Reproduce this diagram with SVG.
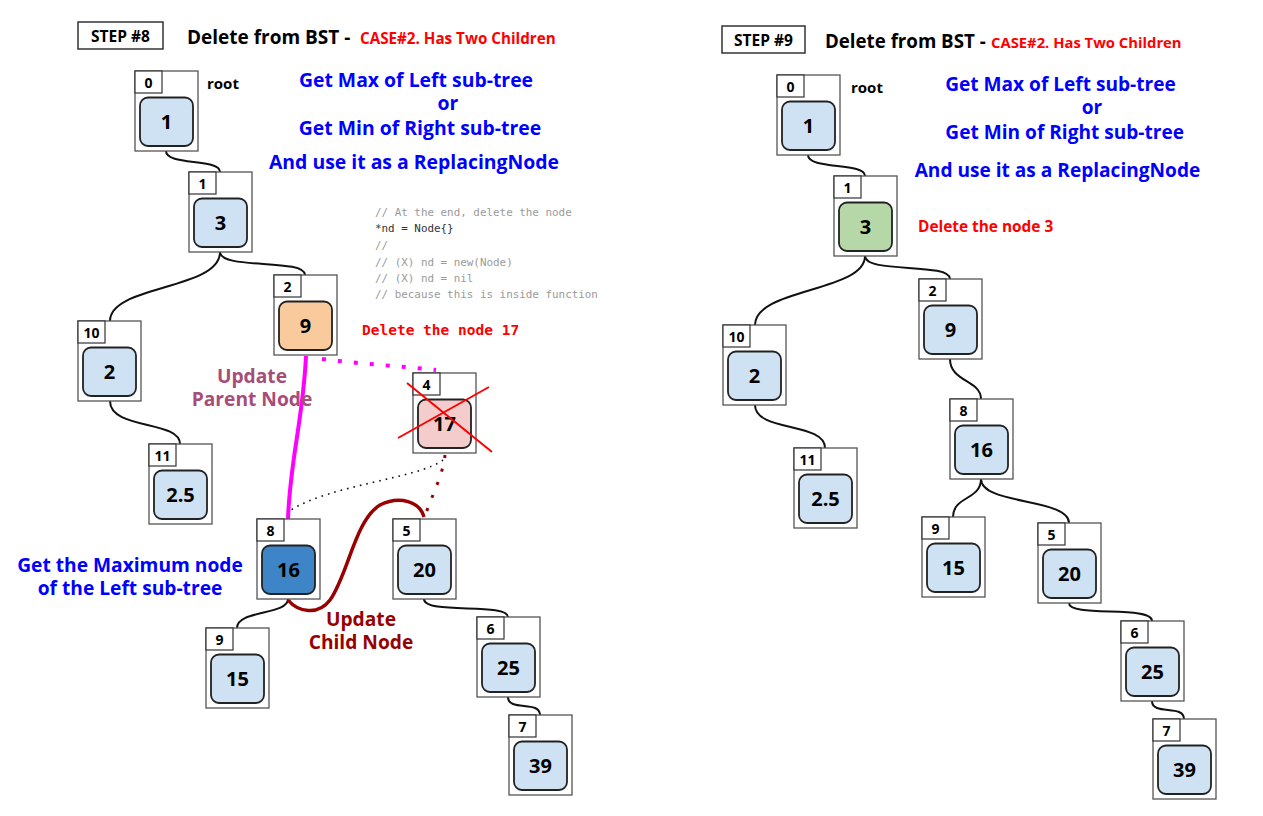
<svg xmlns="http://www.w3.org/2000/svg" width="1263" height="816" viewBox="0 0 1263 816">
  <defs>
    <style>
      .bg { fill: #ffffff; }
      .outer { fill: #ffffff; stroke: #555555; stroke-width: 1.3; }
      .idx { fill: #ffffff; stroke: #333333; stroke-width: 1.2; }
      .val { stroke: #222222; stroke-width: 1.8; }
      .blue { fill: #cfe2f3; }
      .orange { fill: #f9cb9c; }
      .pink { fill: #f4cccc; }
      .dark { fill: #3d85c6; }
      .green { fill: #b6d7a8; }
      .idxt { font-family: "Open Sans", "Noto Sans", sans-serif; font-weight: bold; font-size: 14px; fill: #000; text-anchor: middle; }
      .valt { font-family: "Open Sans", "Noto Sans", sans-serif; font-weight: bold; font-size: 20px; fill: #000; text-anchor: middle; }
      .edge { fill: none; stroke: #111111; stroke-width: 2; }
      .step { fill: #ffffff; stroke: #333333; stroke-width: 1.5; }
      .stept { font-family: "Open Sans", "Noto Sans", sans-serif; font-weight: bold; font-size: 15.5px; fill: #000; text-anchor: middle; }
      .title { font-family: "Open Sans", "Noto Sans", sans-serif; font-weight: bold; font-size: 19px; fill: #000; }
      .case { font-family: "Open Sans", "Noto Sans", sans-serif; font-weight: bold; font-size: 15.2px; fill: #ff0000; }
      .t2 { font-size: 18.7px; }
      .c2 { font-size: 14.8px; }
      .root { font-family: "Open Sans", "Noto Sans", sans-serif; font-weight: bold; font-size: 15px; fill: #000; }
      .hint { font-family: "Open Sans", "Noto Sans", sans-serif; font-weight: bold; font-size: 19.4px; fill: #0000ff; text-anchor: middle; }
      .hint2 { font-size: 19.1px; }
      .code { font-family: "DejaVu Sans Mono", "Liberation Mono", monospace; font-size: 10.9px; fill: #9a9a9a; }
      .codek { fill: #333333; }
      .del { font-family: "DejaVu Sans Mono", "Liberation Mono", monospace; font-weight: bold; font-size: 14.5px; fill: #ff0000; }
      .del2 { font-family: "Open Sans", "Noto Sans", sans-serif; font-weight: bold; font-size: 15.4px; fill: #ff0000; }
      .upd { font-family: "Open Sans", "Noto Sans", sans-serif; font-weight: bold; font-size: 19.2px; text-anchor: middle; }
    </style>
  </defs>

  <rect class="bg" x="0" y="0" width="1263" height="816"/>

  <!-- connectors -->
  <g id="connectors">
    <!-- step 8 tree -->
    <path class="edge" d="M166,151 C166,166 220,158 220,172"/>
    <path class="edge" d="M220,252 C220,290 110,285 110,321"/>
    <path class="edge" d="M220,252 C220,270 305,258 305,275"/>
    <path class="edge" d="M110,401 C110,430 180,420 180,444"/>
    <path class="edge" d="M288,599 C288,615 237,610 237,628"/>
    <path class="edge" d="M424,599 C424,615 508,602 508,617"/>
    <path class="edge" d="M508,697 C508,712 540,700 540,715"/>
    <!-- parent re-link -->
    <path d="M306,356 C303,420 290,460 288,519" fill="none" stroke="#ff00ff" stroke-width="4"/>
    <path d="M322,359 C360,364 400,366 436,370" fill="none" stroke="#ff00ff" stroke-width="4" stroke-dasharray="4 12"/>
    <path d="M443,460 C420,478 330,485 291,510" fill="none" stroke="#111111" stroke-width="1.6" stroke-dasharray="1.6 5"/>
    <path d="M445,455 C443,475 432,495 425,516" fill="none" stroke="#990000" stroke-width="3" stroke-dasharray="3 11"/>
    <!-- child re-link -->
    <path d="M288,600 C298,612 318,616 330,600 C348,575 355,520 380,505 C400,495 420,502 424,517" fill="none" stroke="#990000" stroke-width="3.5"/>

    <!-- step 9 tree -->
    <path class="edge" d="M808,155 C808,170 865,162 865,176"/>
    <path class="edge" d="M865,256 C865,292 755,288 755,325"/>
    <path class="edge" d="M865,256 C865,274 950,262 950,279"/>
    <path class="edge" d="M950,359 C950,382 981,380 981,399"/>
    <path class="edge" d="M755,405 C755,432 825,422 825,448"/>
    <path class="edge" d="M981,479 C981,500 953,496 953,517"/>
    <path class="edge" d="M981,479 C981,505 1069,498 1069,523"/>
    <path class="edge" d="M1069,603 C1069,618 1152,605 1152,621"/>
    <path class="edge" d="M1152,701 C1152,716 1184,704 1184,719"/>
  </g>

  <!-- step 8 labels -->
  <g id="step8-header">
    <rect class="step" x="78" y="22" width="85" height="27"/>
    <text class="stept" x="120.5" y="41.5">STEP #8</text>
    <text class="title" x="187" y="44">Delete from BST -</text>
    <text class="case" x="360" y="44">CASE#2. Has Two Children</text>
    <text class="root" x="207" y="89">root</text>
    <text class="hint" x="416" y="87">Get Max of Left sub-tree</text>
    <text class="hint" x="448" y="110">or</text>
    <text class="hint" x="420" y="135">Get Min of Right sub-tree</text>
    <text class="hint" x="414" y="169">And use it as a ReplacingNode</text>
  </g>

  <g id="code-note">
    <text class="code" x="375" y="216">// At the end, delete the node</text>
    <text class="code codek" x="375" y="232">*nd = Node{}</text>
    <text class="code" x="375" y="249">//</text>
    <text class="code" x="375" y="266">// (X) nd = new(Node)</text>
    <text class="code" x="375" y="282">// (X) nd = nil</text>
    <text class="code" x="375" y="298">// because this is inside function</text>
    <text class="del" x="362" y="335">Delete the node 17</text>
  </g>

  <g id="labels8">
    <text class="upd" x="252" y="383" fill="#a64d79">Update</text>
    <text class="upd" x="252" y="406" fill="#a64d79">Parent Node</text>
    <text class="upd" x="130" y="572" fill="#0000ff">Get the Maximum node</text>
    <text class="upd" x="130" y="595" fill="#0000ff">of the Left sub-tree</text>
    <text class="upd" x="361" y="626" fill="#990000">Update</text>
    <text class="upd" x="361" y="649" fill="#990000">Child Node</text>
  </g>

  <!-- step 8 nodes -->
  <g id="s8-n0" transform="translate(135,71)">
    <rect class="outer" width="63" height="80"/><rect class="idx" width="27" height="22"/>
    <text class="idxt" x="13.5" y="16.5">0</text>
    <rect class="val blue" x="5" y="26.5" width="53" height="48.5" rx="8"/>
    <text class="valt" x="31.5" y="58">1</text>
  </g>
  <g id="s8-n1" transform="translate(189,172)">
    <rect class="outer" width="63" height="80"/><rect class="idx" width="27" height="22"/>
    <text class="idxt" x="13.5" y="16.5">1</text>
    <rect class="val blue" x="5" y="26.5" width="53" height="48.5" rx="8"/>
    <text class="valt" x="31.5" y="58">3</text>
  </g>
  <g id="s8-n2" transform="translate(274,275)">
    <rect class="outer" width="63" height="80"/><rect class="idx" width="27" height="22"/>
    <text class="idxt" x="13.5" y="16.5">2</text>
    <rect class="val orange" x="5" y="26.5" width="53" height="48.5" rx="8"/>
    <text class="valt" x="31.5" y="58">9</text>
  </g>
  <g id="s8-n4" transform="translate(413,373)">
    <rect class="outer" width="63" height="80"/><rect class="idx" width="27" height="22"/>
    <text class="idxt" x="13.5" y="16.5">4</text>
    <rect class="val pink" x="5" y="26.5" width="53" height="48.5" rx="8"/>
    <text class="valt" x="31.5" y="58">17</text>
    <line x1="-6" y1="10" x2="79" y2="79" stroke="#ff0000" stroke-width="2"/>
    <line x1="-15" y1="65" x2="76" y2="14" stroke="#ff0000" stroke-width="2"/>
  </g>
  <g id="s8-n10" transform="translate(78,321)">
    <rect class="outer" width="63" height="80"/><rect class="idx" width="27" height="22"/>
    <text class="idxt" x="13.5" y="16.5">10</text>
    <rect class="val blue" x="5" y="26.5" width="53" height="48.5" rx="8"/>
    <text class="valt" x="31.5" y="58">2</text>
  </g>
  <g id="s8-n11" transform="translate(149,444)">
    <rect class="outer" width="63" height="80"/><rect class="idx" width="27" height="22"/>
    <text class="idxt" x="13.5" y="16.5">11</text>
    <rect class="val blue" x="5" y="26.5" width="53" height="48.5" rx="8"/>
    <text class="valt" x="31.5" y="58">2.5</text>
  </g>
  <g id="s8-n8" transform="translate(257,519)">
    <rect class="outer" width="63" height="80"/><rect class="idx" width="27" height="22"/>
    <text class="idxt" x="13.5" y="16.5">8</text>
    <rect class="val dark" x="5" y="26.5" width="53" height="48.5" rx="8"/>
    <text class="valt" x="31.5" y="58">16</text>
  </g>
  <g id="s8-n5" transform="translate(393,519)">
    <rect class="outer" width="63" height="80"/><rect class="idx" width="27" height="22"/>
    <text class="idxt" x="13.5" y="16.5">5</text>
    <rect class="val blue" x="5" y="26.5" width="53" height="48.5" rx="8"/>
    <text class="valt" x="31.5" y="58">20</text>
  </g>
  <g id="s8-n9" transform="translate(206,628)">
    <rect class="outer" width="63" height="80"/><rect class="idx" width="27" height="22"/>
    <text class="idxt" x="13.5" y="16.5">9</text>
    <rect class="val blue" x="5" y="26.5" width="53" height="48.5" rx="8"/>
    <text class="valt" x="31.5" y="58">15</text>
  </g>
  <g id="s8-n6" transform="translate(477,617)">
    <rect class="outer" width="63" height="80"/><rect class="idx" width="27" height="22"/>
    <text class="idxt" x="13.5" y="16.5">6</text>
    <rect class="val blue" x="5" y="26.5" width="53" height="48.5" rx="8"/>
    <text class="valt" x="31.5" y="58">25</text>
  </g>
  <g id="s8-n7" transform="translate(509,715)">
    <rect class="outer" width="63" height="80"/><rect class="idx" width="27" height="22"/>
    <text class="idxt" x="13.5" y="16.5">7</text>
    <rect class="val blue" x="5" y="26.5" width="53" height="48.5" rx="8"/>
    <text class="valt" x="31.5" y="58">39</text>
  </g>

  <!-- step 9 labels -->
  <g id="step9-header">
    <rect class="step" x="722" y="26" width="83" height="27"/>
    <text class="stept" x="763.5" y="45.5">STEP #9</text>
    <text class="title t2" x="825" y="48">Delete from BST -</text>
    <text class="case c2" x="991" y="48">CASE#2. Has Two Children</text>
    <text class="root" x="851" y="93">root</text>
    <text class="hint hint2" x="1060.5" y="91">Get Max of Left sub-tree</text>
    <text class="hint hint2" x="1092" y="114">or</text>
    <text class="hint hint2" x="1064.7" y="139">Get Min of Right sub-tree</text>
    <text class="hint hint2" x="1057.5" y="177">And use it as a ReplacingNode</text>
    <text class="del2" x="918" y="232">Delete the node 3</text>
  </g>

  <!-- step 9 nodes -->
  <g id="s9-n0" transform="translate(777,75)">
    <rect class="outer" width="63" height="80"/><rect class="idx" width="27" height="22"/>
    <text class="idxt" x="13.5" y="16.5">0</text>
    <rect class="val blue" x="5" y="26.5" width="53" height="48.5" rx="8"/>
    <text class="valt" x="31.5" y="58">1</text>
  </g>
  <g id="s9-n1" transform="translate(834,176)">
    <rect class="outer" width="63" height="80"/><rect class="idx" width="27" height="22"/>
    <text class="idxt" x="13.5" y="16.5">1</text>
    <rect class="val green" x="5" y="26.5" width="53" height="48.5" rx="8"/>
    <text class="valt" x="31.5" y="58">3</text>
  </g>
  <g id="s9-n2" transform="translate(919,279)">
    <rect class="outer" width="63" height="80"/><rect class="idx" width="27" height="22"/>
    <text class="idxt" x="13.5" y="16.5">2</text>
    <rect class="val blue" x="5" y="26.5" width="53" height="48.5" rx="8"/>
    <text class="valt" x="31.5" y="58">9</text>
  </g>
  <g id="s9-n10" transform="translate(723,325)">
    <rect class="outer" width="63" height="80"/><rect class="idx" width="27" height="22"/>
    <text class="idxt" x="13.5" y="16.5">10</text>
    <rect class="val blue" x="5" y="26.5" width="53" height="48.5" rx="8"/>
    <text class="valt" x="31.5" y="58">2</text>
  </g>
  <g id="s9-n11" transform="translate(794,448)">
    <rect class="outer" width="63" height="80"/><rect class="idx" width="27" height="22"/>
    <text class="idxt" x="13.5" y="16.5">11</text>
    <rect class="val blue" x="5" y="26.5" width="53" height="48.5" rx="8"/>
    <text class="valt" x="31.5" y="58">2.5</text>
  </g>
  <g id="s9-n8" transform="translate(950,399)">
    <rect class="outer" width="63" height="80"/><rect class="idx" width="27" height="22"/>
    <text class="idxt" x="13.5" y="16.5">8</text>
    <rect class="val blue" x="5" y="26.5" width="53" height="48.5" rx="8"/>
    <text class="valt" x="31.5" y="58">16</text>
  </g>
  <g id="s9-n9" transform="translate(922,517)">
    <rect class="outer" width="63" height="80"/><rect class="idx" width="27" height="22"/>
    <text class="idxt" x="13.5" y="16.5">9</text>
    <rect class="val blue" x="5" y="26.5" width="53" height="48.5" rx="8"/>
    <text class="valt" x="31.5" y="58">15</text>
  </g>
  <g id="s9-n5" transform="translate(1038,523)">
    <rect class="outer" width="63" height="80"/><rect class="idx" width="27" height="22"/>
    <text class="idxt" x="13.5" y="16.5">5</text>
    <rect class="val blue" x="5" y="26.5" width="53" height="48.5" rx="8"/>
    <text class="valt" x="31.5" y="58">20</text>
  </g>
  <g id="s9-n6" transform="translate(1121,621)">
    <rect class="outer" width="63" height="80"/><rect class="idx" width="27" height="22"/>
    <text class="idxt" x="13.5" y="16.5">6</text>
    <rect class="val blue" x="5" y="26.5" width="53" height="48.5" rx="8"/>
    <text class="valt" x="31.5" y="58">25</text>
  </g>
  <g id="s9-n7" transform="translate(1153,719)">
    <rect class="outer" width="63" height="80"/><rect class="idx" width="27" height="22"/>
    <text class="idxt" x="13.5" y="16.5">7</text>
    <rect class="val blue" x="5" y="26.5" width="53" height="48.5" rx="8"/>
    <text class="valt" x="31.5" y="58">39</text>
  </g>
</svg>
